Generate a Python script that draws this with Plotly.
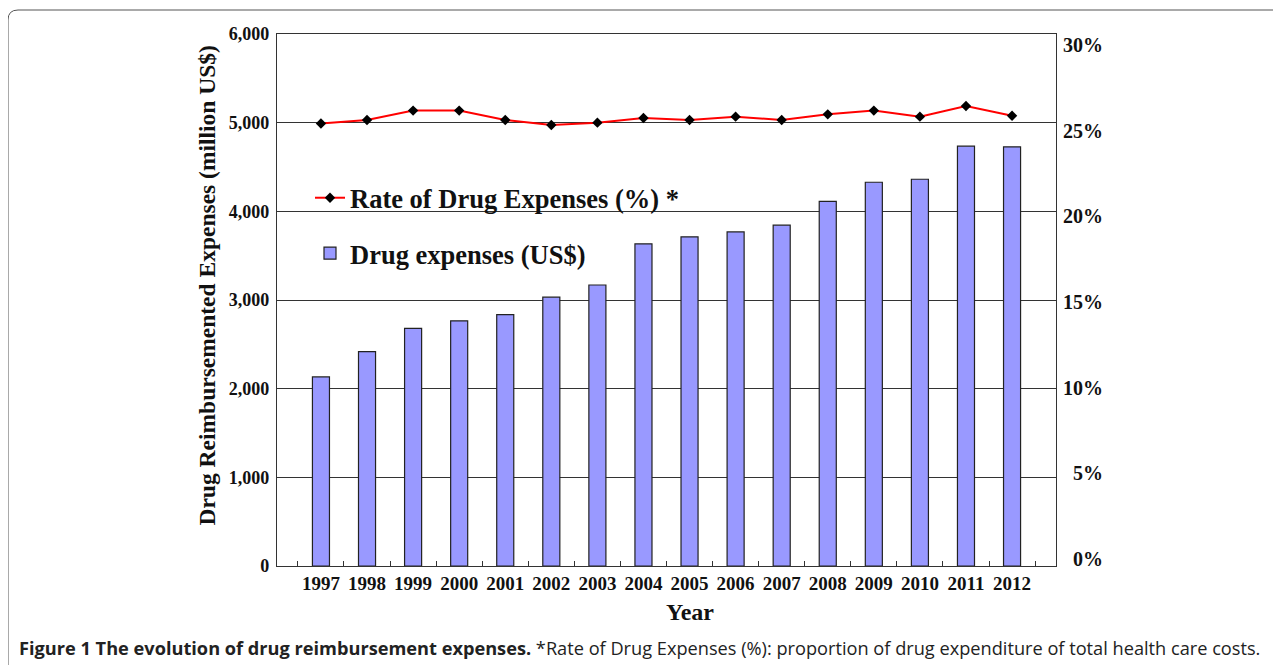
import plotly.graph_objects as go

years = ["1997", "1998", "1999", "2000", "2001", "2002", "2003", "2004",
         "2005", "2006", "2007", "2008", "2009", "2010", "2011", "2012"]
drug_expenses = [2132, 2418, 2681, 2765, 2836, 3032, 3169, 3633,
                 3712, 3768, 3844, 4113, 4328, 4362, 4735, 4727]
rate_pct = [24.95, 25.15, 25.68, 25.68, 25.15, 24.87, 25.00, 25.26,
            25.15, 25.34, 25.15, 25.47, 25.68, 25.34, 25.94, 25.39]
left_ticks = [0, 1000, 2000, 3000, 4000, 5000, 6000]
right_ticks = [0, 5, 10, 15, 20, 25, 30]
right_labels = ["&nbsp;&nbsp;0%", "&nbsp;&nbsp;5%", "10%", "15%", "20%", "25%", "30%"]

OFF = 8  # page body margin
W, H = 1281 - OFF, 665 - OFF
# plot area in reference pixels
RL, RR, RT, RB = 277, 1056, 34, 566
L, R, T, B = RL - OFF, RR - OFF, RT - OFF, RB - OFF
SERIF = "Liberation Serif"
INK = "#111111"

def px_x(px):
    return (px - RL) / (RR - RL)

def px_y(py):
    return (RB - py) / (RB - RT)

fig = go.Figure()
fig.add_trace(go.Scatter(
    x=years, y=rate_pct, name="Rate of Drug Expenses (%) *", yaxis="y3",
    mode="lines+markers", line=dict(color="#FF0000", width=2),
    marker=dict(symbol="diamond", size=8, color="#000000"),
    legendgroup="a"))
fig.add_trace(go.Bar(
    x=years, y=drug_expenses, name="Drug expenses (US$)",
    marker=dict(color="#9999FF", line=dict(color="#222222", width=1.2)),
    width=0.37, legendgroup="b"))
# empty helper trace so the right-hand label axis is drawn
fig.add_trace(go.Scatter(x=years[:1], y=[None], yaxis="y2", mode="markers",
                         showlegend=False, hoverinfo="skip"))

# gaps in gridlines (5000 line behind the rate series, 4000 line behind the legend)
fig.add_shape(type="rect", xref="paper", yref="y", x0=px_x(293), x1=px_x(1039),
              y0=4970, y1=5030, fillcolor="white", line=dict(width=0), layer="between")
fig.add_shape(type="rect", xref="paper", yref="y", x0=px_x(303), x1=px_x(689),
              y0=3970, y1=4030, fillcolor="white", line=dict(width=0), layer="between")

# outer rounded frame
x0, y0, r = 8, 10, 10
path = (f"M {px_x(x0)} {px_y(700)} L {px_x(x0)} {px_y(y0 + r)} "
        f"Q {px_x(x0)} {px_y(y0)} {px_x(x0 + r)} {px_y(y0)} L {px_x(1300)} {px_y(y0)}")
fig.add_shape(type="path", xref="paper", yref="paper", path=path,
              line=dict(color="#555555", width=1))

fig.add_annotation(
    xref="paper", yref="paper", x=px_x(690), y=px_y(612), xanchor="center", yanchor="middle",
    showarrow=False, text="Year",
    font=dict(family=SERIF, size=24, color=INK, weight="bold"))

fig.add_annotation(
    xref="paper", yref="paper", x=px_x(17), y=px_y(648), xanchor="left", yanchor="middle",
    showarrow=False, align="left",
    text="<b>Figure 1 The evolution of drug reimbursement expenses.</b> *Rate of Drug Expenses (%): proportion of drug expenditure of total health care costs.",
    font=dict(family="Open Sans", size=18.2, color="#222222"))

fig.update_layout(
    width=W, height=H,
    margin=dict(l=L, r=W - R, t=T, b=H - B),
    paper_bgcolor="white", plot_bgcolor="white",
    showlegend=True,
    legend=dict(x=px_x(310), y=px_y(174), xanchor="left", yanchor="top",
                bgcolor="rgba(0,0,0,0)", traceorder="grouped", tracegroupgap=18,
                font=dict(family=SERIF, size=26.5, color=INK, weight="bold")),
    xaxis=dict(type="category", showline=True, mirror=True, linecolor="#333333",
               linewidth=1.2, ticks="inside", tickson="boundaries", ticklen=5,
               tickcolor="#333333", showgrid=False, tickangle=0,
               tickfont=dict(family=SERIF, size=19, color=INK, weight="bold")),
    yaxis=dict(range=[0, 6000], tickvals=left_ticks, tickformat=",",
               showline=True, mirror=True, linecolor="#333333", linewidth=1.2,
               showgrid=True, gridcolor="#333333", gridwidth=1, zeroline=False,
               ticks="", ticklabelstandoff=3,
               tickfont=dict(family=SERIF, size=18, color=INK, weight="bold"),
               title=dict(text="&nbsp;&nbsp;&nbsp;&nbsp;&nbsp;Drug Reimbursemented Expenses (million US$)",
                          standoff=6,
                          font=dict(family=SERIF, size=23.5, color=INK, weight="bold"))),
    # right-hand label axis (labels sit slightly off the gridlines, as in the reference)
    yaxis2=dict(range=[-0.409, 30.642], tickvals=right_ticks, ticktext=right_labels,
                overlaying="y", side="right", anchor="x", showgrid=False, zeroline=False,
                showline=False, ticks="", ticklabelstandoff=6,
                tickfont=dict(family=SERIF, size=20, color=INK, weight="bold")),
    # scale of the rate series (0-30 %)
    yaxis3=dict(range=[0, 30], overlaying="y", side="right", anchor="x",
                showgrid=False, zeroline=False, showline=False, showticklabels=False,
                ticks=""),
)

fig.write_html("out.html")
